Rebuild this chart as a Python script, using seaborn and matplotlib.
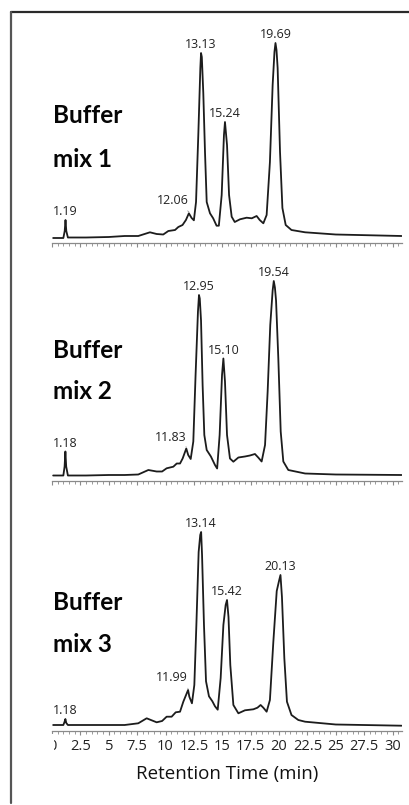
import numpy as np
import pandas as pd
import matplotlib
matplotlib.use("Agg")
import matplotlib.pyplot as plt
from matplotlib.patches import Rectangle
from matplotlib.lines import Line2D
from matplotlib.ticker import MultipleLocator
import seaborn as sns

# ---------------- data ----------------
# retention time (min) and detector response (arbitrary units)
t1 = [0.1, 1.0, 1.12, 1.19, 1.26, 1.4, 3.0, 5.0, 6.4, 7.6, 8.63, 9.22, 9.8, 10.25, 10.84, 11.13,
      11.5, 11.8, 12.06, 12.3, 12.5, 12.69, 12.89, 13.07, 13.13, 13.2, 13.33, 13.48, 13.63, 13.92, 14.2,
      14.5, 14.7, 14.95, 15.15, 15.24, 15.42, 15.6, 15.83, 16.1, 16.56, 17.15, 17.6, 18.03, 18.3,
      18.62, 18.91, 19.2, 19.44, 19.6, 19.69, 19.78, 19.88, 20.09, 20.3, 20.59, 21.1, 22.3, 25.0, 30.8]
y1 = [5, 5, 12, 23, 12, 5.5, 5.5, 6, 7, 7, 10.7, 9, 8.5, 12, 13, 16,
      18, 23, 29.7, 25, 22.7, 41, 108, 175, 190, 186, 150, 91, 41, 29.7, 24.7,
      17.3, 17.3, 48, 108, 121, 98, 48, 26.3, 21, 23.7, 25.3, 24.7, 27, 23,
      19.7, 28, 81, 158, 191, 200, 193, 175, 91, 35, 18, 13, 10.7, 8.5, 7]

t2 = [0.1, 1.0, 1.11, 1.18, 1.25, 1.4, 3.0, 5.0, 6.4, 7.6, 8.49, 9.22, 9.7, 10.1, 10.69, 10.99,
      11.28, 11.51, 11.83, 12.0, 12.22, 12.45, 12.65, 12.86, 12.95, 13.02, 13.13, 13.27, 13.42, 13.63,
      14.0, 14.36, 14.55, 14.77, 14.98, 15.10, 15.24, 15.42, 15.68, 15.98, 16.42, 17.0, 17.44,
      17.88, 18.17, 18.47, 18.77, 19.0, 19.23, 19.44, 19.54, 19.64, 19.74, 19.94, 20.15, 20.38, 20.82,
      22.3, 25.0, 30.8]
y2 = [5, 5, 14, 29, 14, 5, 5, 5.5, 5.5, 6, 10.5, 9, 9, 12.2, 13.8, 17,
      17, 22, 32, 25.5, 21.5, 39, 105.5, 169, 185.5, 182, 160, 95.5, 45.5, 30.5,
      24, 15.5, 12, 45.5, 105.5, 122, 99, 45.5, 22, 18.8, 23, 24, 25,
      26.5, 23, 19, 35.5, 89, 155.5, 190, 199.5, 193, 180, 122, 49, 19, 10.5,
      7, 6, 5.5]

t3 = [0.1, 1.0, 1.1, 1.18, 1.26, 1.4, 3.0, 5.0, 6.4, 7.6, 8.34, 9.22, 9.7, 10.1, 10.54, 10.9,
      11.28, 11.57, 11.99, 12.1, 12.33, 12.54, 12.72, 12.92, 13.06, 13.14, 13.22, 13.39, 13.57, 13.83,
      14.13, 14.36, 14.6, 14.86, 15.1, 15.3, 15.42, 15.55, 15.71, 15.98, 16.42, 17.0, 17.74, 18.1,
      18.38, 18.62, 18.91, 19.2, 19.5, 19.8, 20.0, 20.13, 20.26, 20.47, 20.7, 21.1, 21.7, 22.3,
      25.0, 30.8]
y3 = [6, 6, 9, 12, 8, 6, 6, 6, 6, 7.7, 12.7, 8.7, 10, 14.3, 14.3, 18.7,
      19.3, 29.3, 41, 34.3, 27.7, 46, 106, 179, 196, 199, 176, 106, 49.7, 34.7,
      29.7, 24.7, 21.3, 53, 106, 126, 131, 114, 66, 26, 17.7, 20.7, 21.7, 23.3,
      26, 23.3, 19.3, 31, 89, 140, 150, 156, 134, 72.7, 29.3, 16, 11, 9.3,
      6.5, 5.3]

# labelled peaks (retention times printed on the chart)
peaks1 = ["1.19", "12.06", "13.13", "15.24", "19.69"]
peaks2 = ["1.18", "11.83", "12.95", "15.10", "19.54"]
peaks3 = ["1.18", "11.99", "13.14", "15.42", "20.13"]
minor_label_x = [10.66, 10.44, 10.55]
minor_label_dy = [13, 11.5, 12.3]
panel_names = ["Buffer\nmix 1", "Buffer\nmix 2", "Buffer\nmix 3"]

xtick_vals = [0, 2.5, 5, 7.5, 10, 12.5, 15, 17.5, 20, 22.5, 25, 27.5, 30]
xtick_labels = ["0", "2.5", "5", "7.5", "10", "12.5", "15", "17.5", "20", "22.5", "25", "27.5", "30"]
xlabel = "Retention Time (min)"

# ---------------- figure ----------------
sns.set_theme(style="white")
plt.rcParams["font.family"] = ["Open Sans", "DejaVu Sans"]

W, H = 410, 805
fig = plt.figure(figsize=(W / 100, H / 100), dpi=100)
fig.patch.set_facecolor("white")


def fx(px):
    return px / W


def fy(py):
    return 1 - py / H


x0_px, x1_px = 52, 402
px_per_min = 11.35
xmax = (x1_px - x0_px) / px_per_min

axis_lines = [243, 480.5, 731]
panel_h = 230
traces = [(t1, y1, peaks1), (t2, y2, peaks2), (t3, y3, peaks3)]
name_baselines = [(123, 167), (358, 399), (610, 652)]

line_col = "#1c1c1c"
axis_col = "#8a8a8a"

for i, (tt, yy, pk) in enumerate(traces):
    base = axis_lines[i]
    ax = fig.add_axes([fx(x0_px), fy(base), fx(x1_px) - fx(x0_px), panel_h / H])
    ax.set_facecolor("none")
    df = pd.DataFrame({"time": tt, "signal": yy})
    sns.lineplot(data=df, x="time", y="signal", ax=ax, color=line_col, lw=1.3,
                 estimator=None, sort=False, solid_joinstyle="round")
    ax.set_xlim(0, xmax)
    ax.set_ylim(0, panel_h)
    for s in ["top", "right", "left"]:
        ax.spines[s].set_visible(False)
    ax.spines["bottom"].set_color(axis_col)
    ax.spines["bottom"].set_linewidth(0.9)
    ax.set_yticks([])
    ax.set_ylabel("")
    ax.xaxis.set_major_locator(MultipleLocator(2.5))
    ax.xaxis.set_minor_locator(MultipleLocator(0.5))
    ax.tick_params(axis="x", which="major", direction="out", length=3, width=0.8,
                   color=axis_col, bottom=True, pad=3)
    ax.tick_params(axis="x", which="minor", direction="out", length=2, width=0.6,
                   color=axis_col, bottom=True)
    if i == 2:
        ax.set_xticks(xtick_vals)
        ax.set_xticklabels(xtick_labels, fontsize=10.5, color="#222222")
        ax.set_xlabel(xlabel, fontsize=13.5, color="#111111", labelpad=8)
    else:
        ax.set_xticklabels([])
        ax.set_xlabel("")

    # peak labels
    for j, lab in enumerate(pk):
        pt = float(lab)
        ph = max(v for tv, v in zip(tt, yy) if abs(tv - pt) < 0.12)
        if j == 1:
            ax.annotate(lab, xy=(pt, ph + 1.5),
                        xytext=(minor_label_x[i], ph + minor_label_dy[i]),
                        textcoords="data", ha="center", va="center", fontsize=9,
                        color="#222222",
                        arrowprops=dict(arrowstyle="-", color="#999999", lw=0.6,
                                        shrinkA=1, shrinkB=0))
        else:
            ax.text(pt, ph + 8.5, lab, ha="center", va="center", fontsize=9,
                    color="#222222")

    # buffer names
    l1, l2 = panel_names[i].split("\n")
    for txt, yb in ((l1, name_baselines[i][0]), (l2, name_baselines[i][1])):
        fig.text(fx(53), fy(yb), txt, ha="left", va="baseline",
                 fontsize=17.5, fontweight="bold", family=["Lato", "DejaVu Sans"],
                 color="#050505")

# mask the clipped left part of the "0" tick label
fig.patches.append(Rectangle((fx(20), fy(762)), fx(53.5) - fx(20), fy(734) - fy(762),
                             transform=fig.transFigure, facecolor="white",
                             edgecolor="none", zorder=10))

# outer frame (top and left edges)
fig.lines.append(Line2D([fx(11), fx(410)], [fy(12.5), fy(12.5)], transform=fig.transFigure,
                        color="#2a2a2a", lw=1.6, zorder=11))
fig.lines.append(Line2D([fx(11), fx(11)], [fy(12.5), fy(803)], transform=fig.transFigure,
                        color="#555555", lw=1.6, zorder=11))

fig.savefig("out.png", dpi=100, facecolor="white")
